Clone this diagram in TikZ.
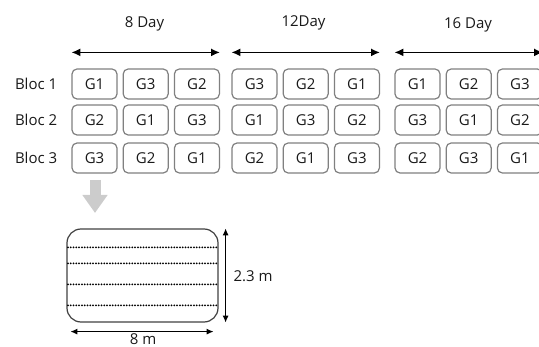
\documentclass[tikz,border=0pt]{standalone}
\usepackage{fontspec}
\setmainfont{Open Sans}
\usepackage{tikz}
\usetikzlibrary{arrows.meta, positioning, calc}
\definecolor{plotgray}{RGB}{128,128,128}
\definecolor{inkgray}{RGB}{25,25,25}

\begin{document}
\begin{tikzpicture}[x=1pt, y=-1pt,
        font=\fontsize{15}{18}\selectfont,
        plot/.style={rectangle, draw=plotgray, line width=1.2pt, rounded corners=5pt, minimum width=45pt, minimum height=30pt, inner sep=0pt, text=inkgray},
        lbl/.style={inner sep=0pt, text=inkgray},
        span/.style={draw=black, line width=1.6pt, {Latex[length=9pt,width=8pt]}-{Latex[length=9pt,width=8pt]}},
        dim/.style={draw=black, line width=1.1pt, {Latex[length=7pt,width=6pt]}-{Latex[length=7pt,width=6pt]}},
        furrow/.style={draw=black, line width=2pt, line cap=round, dash pattern=on 0pt off 2.8pt},
        field/.style={rectangle, draw=darkgray, line width=1.2pt, rounded corners=14pt, minimum width=151pt, minimum height=93pt, inner sep=0pt},
        move/.style={draw=gray!40, line width=11pt, -{Triangle[length=18pt,width=24pt]}}]

    \useasboundingbox (0,0) rectangle (539,347);

    % plots: group / row
    \foreach \g/\gx/\r/\ry/\la/\lb/\lc in {1/72/1/84/G1/G3/G2, 1/72/2/120/G2/G1/G3, 1/72/3/158/G3/G2/G1,
            2/232/1/84/G3/G2/G1, 2/232/2/120/G1/G3/G2, 2/232/3/158/G2/G1/G3,
            3/395/1/84/G1/G2/G3, 3/395/2/120/G3/G1/G2, 3/395/3/158/G2/G3/G1}{
        \node [plot] (p\g\r1) at (\gx+22.5,\ry) {\la};
        \node [plot, right=5pt of p\g\r1] (p\g\r2) {\lb};
        \node [plot, right=5pt of p\g\r2] (p\g\r3) {\lc};
    }

    % blocks
    \foreach \r in {1,2,3}
        \node [lbl, left=14pt of p1\r1] (bloc\r) {Bloc \r};

    % days
    \node [lbl] (day1) at (144.5,24) {8 Day};
    \node [lbl] (day2) at (303.5,23) {12Day};
    \node [lbl] (day3) at (468,25) {16 Day};
    \foreach \g in {1,2,3}
        \draw [span] ([yshift=16pt]p\g11.north west) -- ([yshift=16pt]p\g13.north east);

    % field
    \node [field] (field) at (142.5,275.5) {};
    \coordinate (movetop) at (95,180);
    \coordinate (movetip) at (95,213);
    \draw [move] (movetop) -- (movetip);
    \foreach \dy in {19,35,56,77}
        \draw [furrow] ([shift={(1.5pt,-\dy pt)}]field.north west) -- ([yshift=-\dy pt]field.north east);
    \draw [dim] ([xshift=7pt]field.north east) -- ([xshift=7pt]field.south east);
    \draw [dim] ([shift={(4pt,-9pt)}]field.south west) -- ([shift={(-5pt,-9pt)}]field.south east);
    \node [lbl] (width) at (253,276) {2.3 m};
    \node [lbl] (length) at (143,339) {8 m};
\end{tikzpicture}
\end{document}
